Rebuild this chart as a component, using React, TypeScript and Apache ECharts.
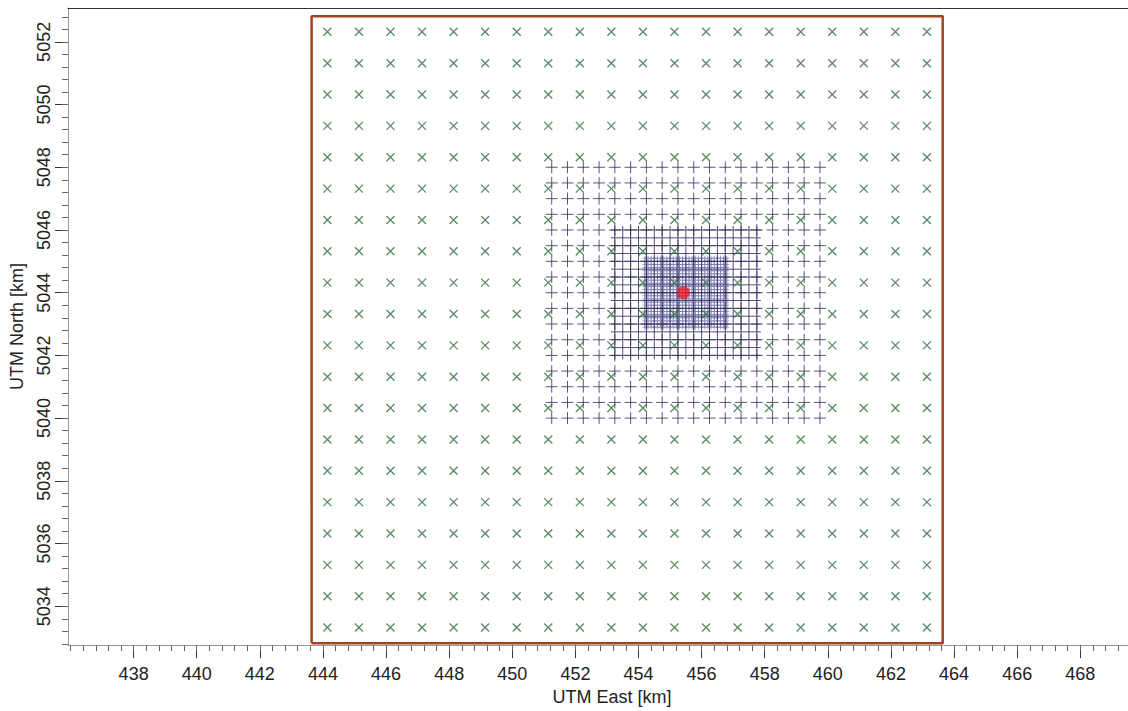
import React, { useEffect, useRef } from "react";
import * as echarts from "echarts";

// ---- axis ticks (km) ----
const xMajorTicks = [438, 440, 442, 444, 446, 448, 450, 452, 454, 456, 458, 460, 462, 464, 466, 468];
const yMajorTicks = [5034, 5036, 5038, 5040, 5042, 5044, 5046, 5048, 5050, 5052];
const X_MIN = 435.92;
const X_MAX = 470.4;
const Y_MIN = 5032.76;
const Y_MAX = 5053.08;
const MINOR_STEP = 0.4;

// ---- coarse receptor grid (green x) ----
const receptorX = [444.14, 445.14, 446.14, 447.14, 448.14, 449.14, 450.14, 451.14, 452.14, 453.14,
  454.14, 455.14, 456.14, 457.14, 458.14, 459.14, 460.14, 461.14, 462.14, 463.14];
const receptorY = [5033.32, 5034.32, 5035.32, 5036.32, 5037.32, 5038.32, 5039.32, 5040.32, 5041.32, 5042.32,
  5043.32, 5044.32, 5045.32, 5046.32, 5047.32, 5048.32, 5049.32, 5050.32, 5051.32, 5052.32];

// ---- nested grid 1 (0.5 km) ----
const nest1X = [451.25, 451.75, 452.25, 452.75, 453.25, 453.75, 454.25, 454.75, 455.25, 455.75,
  456.25, 456.75, 457.25, 457.75, 458.25, 458.75, 459.25, 459.75];
const nest1Y = [5040.0, 5040.5, 5041.0, 5041.5, 5042.0, 5042.5, 5043.0, 5043.5, 5044.0, 5044.5,
  5045.0, 5045.5, 5046.0, 5046.5, 5047.0, 5047.5, 5048.0];

// ---- nested grid 2 (0.25 km) ----
const nest2X = [453.25, 453.5, 453.75, 454.0, 454.25, 454.5, 454.75, 455.0, 455.25, 455.5,
  455.75, 456.0, 456.25, 456.5, 456.75, 457.0, 457.25, 457.5, 457.75];
const nest2Y = [5042.0, 5042.25, 5042.5, 5042.75, 5043.0, 5043.25, 5043.5, 5043.75, 5044.0,
  5044.25, 5044.5, 5044.75, 5045.0, 5045.25, 5045.5, 5045.75, 5046.0];

// ---- nested grid 3 (0.1 km) ----
const nest3X = [454.2, 454.3, 454.4, 454.5, 454.6, 454.7, 454.8, 454.9, 455.0, 455.1, 455.2, 455.3,
  455.4, 455.5, 455.6, 455.7, 455.8, 455.9, 456.0, 456.1, 456.2, 456.3, 456.4, 456.5, 456.6, 456.7, 456.8];
const nest3Y = [5042.9, 5043.0, 5043.1, 5043.2, 5043.3, 5043.4, 5043.5, 5043.6, 5043.7, 5043.8, 5043.9,
  5044.0, 5044.1, 5044.2, 5044.3, 5044.4, 5044.5, 5044.6, 5044.7, 5044.8, 5044.9, 5045.0, 5045.1];

// ---- source and modelling domain ----
const sourcePoint = [455.42, 5044.0];
const domainX = [443.64, 463.64];
const domainY = [5032.82, 5052.82];

const FONT = "'Liberation Sans', Arial, sans-serif";
const CROSS = "path://M0,0L10,10M10,0L0,10";
const PLUS = "path://M5,0L5,10M0,5L10,5";

function cross(xs: number[], ys: number[]): number[][] {
  const out: number[][] = [];
  for (const y of ys) for (const x of xs) out.push([x, y]);
  return out;
}

function minorTicks(min: number, max: number, anchor: number): number[] {
  const out: number[] = [];
  const start = anchor - Math.floor((anchor - min) / MINOR_STEP) * MINOR_STEP;
  for (let v = start; v <= max + 1e-9; v += MINOR_STEP) out.push(Math.round(v * 100) / 100);
  return out;
}

const fmt = (v: number) => String(Math.round(v));

export default function App() {
  const ref = useRef<HTMLDivElement>(null);
  useEffect(() => {
    if (!ref.current) return;
    const chart = echarts.init(ref.current, null, { renderer: "svg" });
    const xMinor = minorTicks(X_MIN, X_MAX, xMajorTicks[0]);
    const yMinor = minorTicks(Y_MIN, Y_MAX, yMajorTicks[0]);
    const domainLine = [
      [domainX[0], domainY[0]],
      [domainX[1], domainY[0]],
      [domainX[1], domainY[1]],
      [domainX[0], domainY[1]],
      [domainX[0], domainY[0]],
    ];
    chart.setOption({
      animation: false,
      backgroundColor: "#ffffff",
      grid: { left: 68, top: 8, width: 1088, height: 640, containLabel: false },
      xAxis: [
        {
          type: "value", min: X_MIN, max: X_MAX, position: "bottom",
          axisLine: { show: true, lineStyle: { color: "#9a9a9a", width: 1 } },
          axisTick: { show: true, customValues: xMajorTicks, length: 13, lineStyle: { color: "#333" } },
          axisLabel: { customValues: xMajorTicks, formatter: fmt, fontSize: 18, fontFamily: FONT, color: "#222", margin: 20 },
          splitLine: { show: false },
          name: "UTM East [km]", nameLocation: "middle", nameGap: 34,
          nameTextStyle: { fontSize: 18, fontFamily: FONT, color: "#222" },
        },
        {
          type: "value", min: X_MIN, max: X_MAX, position: "bottom",
          axisLine: { show: false },
          axisTick: { show: true, customValues: xMinor, length: 6, lineStyle: { color: "#666" } },
          axisLabel: { show: false },
          splitLine: { show: false },
        },
        {
          type: "value", min: X_MIN, max: X_MAX, position: "top",
          axisLine: { show: true, lineStyle: { color: "#333", width: 1 } },
          axisTick: { show: false }, axisLabel: { show: false }, splitLine: { show: false },
        },
      ],
      yAxis: [
        {
          type: "value", min: Y_MIN, max: Y_MAX, position: "left",
          axisLine: { show: true, lineStyle: { color: "#9a9a9a", width: 1 } },
          axisTick: { show: true, customValues: yMajorTicks, length: 13, lineStyle: { color: "#333" } },
          axisLabel: { customValues: yMajorTicks, formatter: fmt, fontSize: 18, fontFamily: FONT, color: "#222", margin: 15, rotate: 90 },
          splitLine: { show: false },
          name: "UTM North [km]", nameLocation: "middle", nameGap: 42,
          nameTextStyle: { fontSize: 18, fontFamily: FONT, color: "#222" },
        },
        {
          type: "value", min: Y_MIN, max: Y_MAX, position: "left",
          axisLine: { show: false },
          axisTick: { show: true, customValues: yMinor, length: 6, lineStyle: { color: "#666" } },
          axisLabel: { show: false },
          splitLine: { show: false },
        },
      ],
      series: [
        {
          type: "scatter", name: "Nested grid 3", silent: true,
          data: cross(nest3X, nest3Y), symbol: PLUS, symbolSize: 5,
          itemStyle: { color: "transparent", borderColor: "#5c5ca0", borderWidth: 0.7 },
        },
        {
          type: "scatter", name: "Nested grid 2", silent: true,
          data: cross(nest2X, nest2Y), symbol: PLUS, symbolSize: 8,
          itemStyle: { color: "transparent", borderColor: "#26265e", borderWidth: 1 },
        },
        {
          type: "scatter", name: "Nested grid 1", silent: true,
          data: cross(nest1X, nest1Y), symbol: PLUS, symbolSize: 12,
          itemStyle: { color: "transparent", borderColor: "#2e2e5a", borderWidth: 1 },
        },
        {
          type: "scatter", name: "Receptors", silent: true,
          data: cross(receptorX, receptorY), symbol: CROSS, symbolSize: 8,
          itemStyle: { color: "transparent", borderColor: "#2f6b3a", borderWidth: 1.3 },
        },
        {
          type: "line", name: "Domain", silent: true,
          data: domainLine, symbol: "none",
          lineStyle: { color: "#a3421c", width: 2.5 },
        },
        {
          type: "scatter", name: "Source", silent: true,
          data: [sourcePoint], symbol: "circle", symbolSize: 13,
          itemStyle: { color: "#ea1c24" },
        },
      ],
    });
    return () => chart.dispose();
  }, []);
  return (
    <div style={{ position: "fixed", left: 0, top: 0, width: 1128, height: 711, overflow: "hidden", background: "#fff" }}>
      <div ref={ref} style={{ width: 1160, height: 711 }} />
    </div>
  );
}
